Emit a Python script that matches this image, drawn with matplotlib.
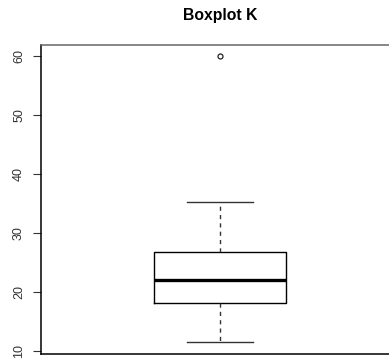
import matplotlib
matplotlib.use("Agg")
import matplotlib.pyplot as plt

# five-number summary of K plus the single outlier
k_whislo = 11.5
k_q1 = 18.2
k_med = 22.1
k_q3 = 26.8
k_whishi = 35.3
k_fliers = [60.0]

yticks = [10, 20, 30, 40, 50, 60]

plt.rcParams['font.family'] = ['Liberation Sans', 'DejaVu Sans']

fig = plt.figure(figsize=(3.89, 3.61), dpi=100)
ax = fig.add_axes([41 / 389, 7 / 361, 358 / 389, 309 / 361])

stats = [{
    'whislo': k_whislo, 'q1': k_q1, 'med': k_med, 'q3': k_q3,
    'whishi': k_whishi, 'fliers': k_fliers,
}]
ax.bxp(stats, positions=[1], widths=0.37, showcaps=True,
       boxprops=dict(color='black', linewidth=1),
       medianprops=dict(color='black', linewidth=2.4),
       whiskerprops=dict(color='#333333', linewidth=1, linestyle=(0, (3, 3))),
       capprops=dict(color='#333333', linewidth=1),
       flierprops=dict(marker='o', markersize=3.6, markerfacecolor='none',
                       markeredgecolor='#222222', markeredgewidth=0.9))

ax.set_xlim(0.5, 1.5)
ax.set_ylim(9.46, 61.94)
ax.set_xticks([])
ax.set_yticks(yticks)
ax.set_yticklabels([str(t) for t in yticks], rotation=90, va='center')
ax.tick_params(axis='y', length=5.5, width=0.8, pad=6, labelsize=9,
               color='#333333', labelcolor='#333333')
for s in ax.spines.values():
    s.set_linewidth(1.1)
    s.set_color('black')
ax.spines['top'].set_color('#666666')

fig.text(220 / 389, 1 - 15.5 / 361, 'Boxplot K', ha='center', va='center',
         fontsize=11.3, fontweight='bold')

fig.savefig('out.png', dpi=100)
